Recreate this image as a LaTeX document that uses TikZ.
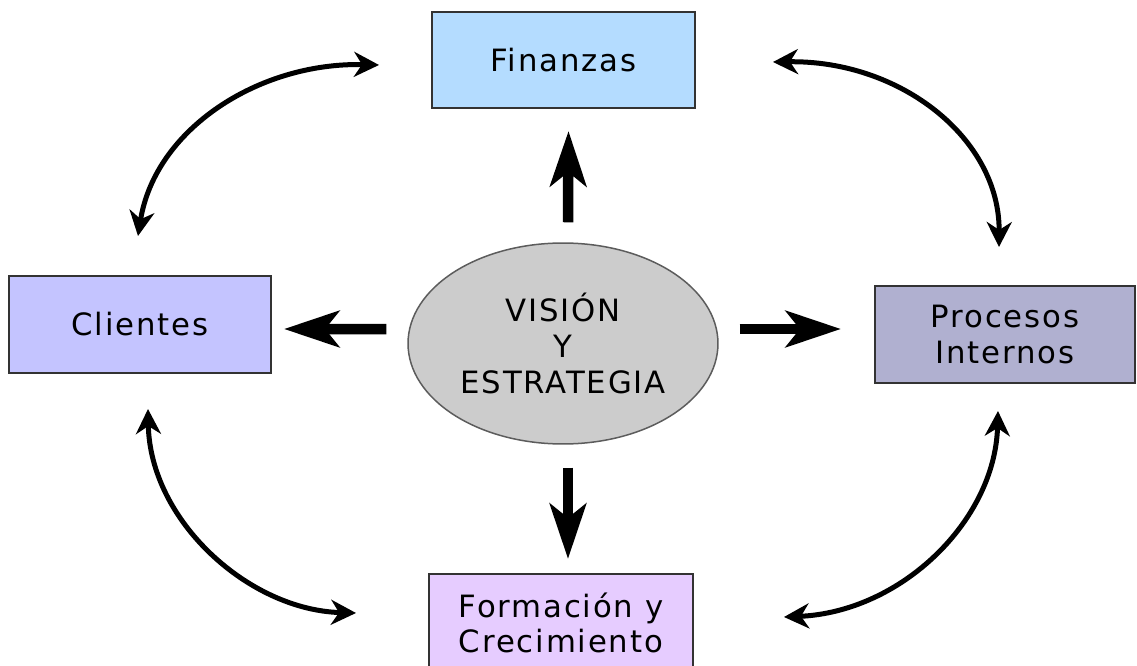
\documentclass[tikz,border=0pt]{standalone}
\usepackage{fontspec}
\newfontfamily\vfont[LetterSpace=6]{DejaVu Sans}
\usetikzlibrary{arrows.meta,shapes.geometric}
\definecolor{finc}{HTML}{B4DCFF}
\definecolor{clic}{HTML}{C4C4FF}
\definecolor{proc}{HTML}{B0B0D0}
\definecolor{forc}{HTML}{E6CCFF}
\definecolor{visc}{HTML}{CCCCCC}
\definecolor{edgec}{HTML}{333333}
\tikzset{
  box/.style={draw=edgec, line width=0.04cm, rectangle, align=center, inner sep=0pt,
     font=\vfont\fontsize{17.5}{20}\selectfont, text=black},
  oval/.style={draw=edgec!80, line width=0.03cm, ellipse, fill=visc, align=center, inner sep=0pt,
     minimum width=6.2cm, minimum height=4.02cm, font=\vfont\fontsize{17.5}{20.4}\selectfont},
  bigarr/.style={line width=0.21cm, -{Stealth[length=1.1cm, width=0.72cm, inset=0.28cm]}},
  curarr/.style={line width=0.1cm, {Stealth[length=0.5cm, width=0.5cm, inset=0.16cm]}-{Stealth[length=0.5cm, width=0.5cm, inset=0.16cm]}}
}
\begin{document}
\begin{tikzpicture}[x=0.02cm, y=-0.02cm]
\useasboundingbox (0,0) rectangle (1137,666);
\fill[white] (0,0) rectangle (1137,666);
\clip (0,0) rectangle (1137,666);

\node[box, fill=finc, minimum width=5.26cm, minimum height=1.92cm] (fin) at (563.5,60) {Finanzas};
\node[box, fill=clic, minimum width=5.24cm, minimum height=1.94cm] (cli) at (140,324.5) {Clientes};
\node[box, fill=proc, minimum width=5.2cm, minimum height=1.94cm] (pro) at (1005,334.5) {Procesos\\Internos};
\node[box, fill=forc, minimum width=5.28cm, minimum height=1.96cm] (for) at (561,623) {Formación y\\Crecimiento};
\node[oval] (vis) at (563,343.5) {VISIÓN\\Y\\ESTRATEGIA};

% straight arrows
\draw[bigarr] ([shift={(5,-20)}]vis.north) -- ([shift={(5,22)}]fin.south);
\draw[bigarr] ([shift={(-21,-14.5)}]vis.west) -- ([shift={(12,4.5)}]cli.east);
\draw[bigarr] ([shift={(21,-14.5)}]vis.east) -- ([shift={(-33,-5.5)}]pro.west);
\draw[bigarr] ([shift={(5,23)}]vis.south) -- ([shift={(7,-14)}]for.north);

% curved arrows
\draw[curarr] ([shift={(-52,5)}]fin.west) .. controls +(-120,-3) and +(17,-107) .. ([shift={(-2,-39)}]cli.north);
\draw[curarr] ([shift={(77,2)}]fin.east) .. controls +(128,-2) and +(1,-108) .. ([shift={(-6,-38)}]pro.north);
\draw[curarr] ([shift={(8,35)}]cli.south) .. controls +(2,112) and +(-107,-3) .. ([shift={(-72,-10)}]for.west);
\draw[curarr] ([shift={(-7,27)}]pro.south) .. controls +(-3,110) and +(117,-5) .. ([shift={(90,-6)}]for.east);
\end{tikzpicture}
\end{document}
